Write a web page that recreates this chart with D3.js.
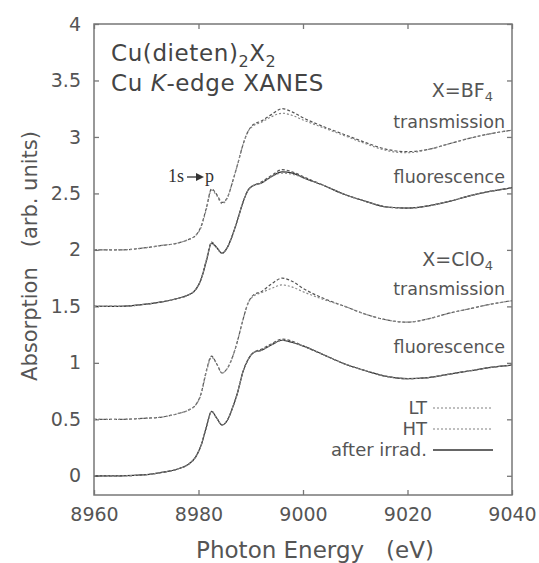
<!DOCTYPE html>
<html>
<head>
<meta charset="utf-8">
<script src="https://cdn.jsdelivr.net/npm/d3@7/dist/d3.min.js"></script>
<style>
  body { margin: 0; background: #fff; }
  text { font-family: "DejaVu Sans", sans-serif; }
</style>
</head>
<body>
<div id="chart"></div>
<script>
// photon energy grid (eV)
const energy = [8960, 8965, 8970, 8973, 8976, 8978, 8979.5, 8980.5, 8981.5, 8982.5, 8983.5, 8984.5, 8985.5, 8986.5, 8987.5, 8988.5, 8989.5, 8990.5, 8992, 8994, 8996, 8998, 9000, 9004, 9008, 9012, 9016, 9020, 9024, 9028, 9032, 9036, 9040];

// X=BF4, transmission (offset 2.0)
const bf4TransLT = [2.00, 2.00, 2.02, 2.04, 2.06, 2.09, 2.13, 2.21, 2.37, 2.54, 2.49, 2.42, 2.46, 2.60, 2.76, 2.93, 3.05, 3.11, 3.14, 3.20, 3.25, 3.22, 3.17, 3.09, 3.02, 2.95, 2.89, 2.87, 2.89, 2.94, 2.99, 3.03, 3.06];
const bf4TransHT = [2.00, 2.00, 2.02, 2.04, 2.06, 2.09, 2.13, 2.20, 2.36, 2.53, 2.48, 2.41, 2.46, 2.60, 2.76, 2.93, 3.05, 3.10, 3.13, 3.18, 3.21, 3.19, 3.15, 3.08, 3.01, 2.94, 2.88, 2.86, 2.89, 2.94, 2.99, 3.03, 3.06];
// X=BF4, fluorescence (offset 1.5)
const bf4FluoLT = [1.50, 1.50, 1.52, 1.54, 1.57, 1.60, 1.65, 1.74, 1.91, 2.07, 2.02, 1.97, 2.02, 2.13, 2.27, 2.42, 2.53, 2.57, 2.60, 2.66, 2.71, 2.69, 2.65, 2.57, 2.49, 2.43, 2.38, 2.37, 2.39, 2.43, 2.48, 2.52, 2.55];
const bf4FluoHT = [1.50, 1.50, 1.52, 1.54, 1.57, 1.60, 1.65, 1.74, 1.90, 2.06, 2.02, 1.97, 2.02, 2.13, 2.27, 2.42, 2.53, 2.57, 2.59, 2.65, 2.68, 2.67, 2.64, 2.57, 2.49, 2.43, 2.38, 2.37, 2.39, 2.43, 2.48, 2.52, 2.55];
const bf4FluoIrr = [1.50, 1.50, 1.52, 1.54, 1.57, 1.60, 1.65, 1.74, 1.90, 2.06, 2.02, 1.97, 2.02, 2.13, 2.27, 2.42, 2.53, 2.57, 2.59, 2.65, 2.69, 2.68, 2.64, 2.57, 2.49, 2.43, 2.38, 2.37, 2.39, 2.43, 2.48, 2.52, 2.55];

// X=ClO4, transmission (offset 0.5)
const clo4TransLT = [0.50, 0.50, 0.51, 0.52, 0.55, 0.58, 0.63, 0.73, 0.93, 1.06, 0.99, 0.91, 0.95, 1.05, 1.20, 1.38, 1.53, 1.60, 1.63, 1.70, 1.75, 1.72, 1.66, 1.57, 1.50, 1.43, 1.38, 1.36, 1.39, 1.44, 1.48, 1.52, 1.55];
const clo4TransHT = [0.50, 0.50, 0.51, 0.52, 0.55, 0.58, 0.63, 0.72, 0.92, 1.05, 0.99, 0.91, 0.95, 1.05, 1.20, 1.38, 1.53, 1.59, 1.62, 1.66, 1.69, 1.67, 1.63, 1.56, 1.50, 1.43, 1.38, 1.36, 1.39, 1.44, 1.48, 1.52, 1.55];
// X=ClO4, fluorescence (offset 0)
const clo4FluoLT = [0.00, 0.00, 0.01, 0.03, 0.06, 0.10, 0.17, 0.27, 0.43, 0.57, 0.51, 0.45, 0.49, 0.60, 0.74, 0.92, 1.03, 1.09, 1.12, 1.17, 1.21, 1.19, 1.15, 1.07, 0.99, 0.93, 0.88, 0.86, 0.87, 0.90, 0.93, 0.96, 0.98];
const clo4FluoHT = [0.00, 0.00, 0.01, 0.03, 0.06, 0.10, 0.17, 0.27, 0.43, 0.57, 0.51, 0.45, 0.49, 0.60, 0.74, 0.92, 1.03, 1.09, 1.11, 1.16, 1.20, 1.18, 1.15, 1.07, 0.99, 0.93, 0.88, 0.86, 0.87, 0.90, 0.93, 0.96, 0.98];
const clo4FluoIrr = [0.00, 0.00, 0.01, 0.03, 0.06, 0.10, 0.17, 0.27, 0.43, 0.57, 0.51, 0.45, 0.49, 0.60, 0.74, 0.92, 1.03, 1.09, 1.11, 1.16, 1.20, 1.18, 1.15, 1.07, 0.99, 0.93, 0.88, 0.86, 0.87, 0.90, 0.93, 0.96, 0.98];

const xTicks = [8960, 8980, 9000, 9020, 9040];
const yTicks = [0, 0.5, 1, 1.5, 2, 2.5, 3, 3.5, 4];

const styles = {
  LT: { stroke: '#555', dash: '3,2', width: 1.2 },
  HT: { stroke: '#888', dash: '2,2', width: 1.2 },
  irr: { stroke: '#333', dash: null, width: 1.2 }
};

const series = [
  { values: bf4TransLT, kind: 'LT' },
  { values: bf4TransHT, kind: 'HT' },
  { values: bf4FluoIrr, kind: 'irr' },
  { values: bf4FluoLT, kind: 'LT' },
  { values: bf4FluoHT, kind: 'HT' },
  { values: clo4TransLT, kind: 'LT' },
  { values: clo4TransHT, kind: 'HT' },
  { values: clo4FluoIrr, kind: 'irr' },
  { values: clo4FluoLT, kind: 'LT' },
  { values: clo4FluoHT, kind: 'HT' }
];

const width = 539, height = 563;
const margin = { top: 24, right: 27, bottom: 68, left: 94 };
const w = width - margin.left - margin.right;
const h = height - margin.top - margin.bottom;

const svg = d3.select('#chart').append('svg')
  .attr('width', width)
  .attr('height', height);

const chart = svg.append('g')
  .attr('transform', `translate(${margin.left},${margin.top})`);

const xScale = d3.scaleLinear().domain([8960, 9040]).range([0, w]);
const yScale = d3.scaleLinear().domain([-0.17, 4]).range([h, 0]);

// axes, ticks pointing inward on all four sides
const axisColor = '#777';
const labelColor = '#555';

chart.append('g')
  .attr('transform', `translate(0,${h})`)
  .call(d3.axisBottom(xScale).tickValues(xTicks).tickSize(-5).tickPadding(13).tickFormat(d3.format('d')))
  .call(g => g.select('.domain').remove());
chart.append('g')
  .call(d3.axisTop(xScale).tickValues(xTicks).tickSize(-5).tickFormat(''))
  .call(g => g.select('.domain').remove());
chart.append('g')
  .call(d3.axisLeft(yScale).tickValues(yTicks).tickSize(-5).tickPadding(13).tickFormat(d => d))
  .call(g => g.select('.domain').remove());
chart.append('g')
  .attr('transform', `translate(${w},0)`)
  .call(d3.axisRight(yScale).tickValues(yTicks).tickSize(-5).tickFormat(''))
  .call(g => g.select('.domain').remove());

chart.selectAll('.tick line').attr('stroke', axisColor).attr('stroke-width', 1.3);
chart.selectAll('.tick text')
  .attr('fill', labelColor)
  .style('font-size', '19px')
  .style('font-family', '"DejaVu Sans", sans-serif');

chart.append('rect')
  .attr('width', w)
  .attr('height', h)
  .attr('fill', 'none')
  .attr('stroke', axisColor)
  .attr('stroke-width', 1.5);

// spectra
const line = d3.line()
  .x((d, i) => xScale(energy[i]))
  .y(d => yScale(d))
  .curve(d3.curveMonotoneX);

chart.selectAll('.spectrum')
  .data(series)
  .enter()
  .append('path')
  .classed('spectrum', true)
  .attr('d', d => line(d.values))
  .attr('fill', 'none')
  .attr('stroke', d => styles[d.kind].stroke)
  .attr('stroke-width', d => styles[d.kind].width)
  .attr('stroke-dasharray', d => styles[d.kind].dash);

// axis titles
svg.append('text')
  .attr('x', 315)
  .attr('y', 558)
  .attr('fill', labelColor)
  .style('font-size', '23px')
  .style('text-anchor', 'middle')
  .text('Photon Energy\u00a0\u00a0\u00a0(eV)');

svg.append('text')
  .attr('transform', 'translate(37,256) rotate(-90)')
  .attr('fill', labelColor)
  .style('font-size', '21px')
  .style('text-anchor', 'middle')
  .text('Absorption\u00a0\u00a0\u00a0(arb. units)');

// title block
const title1 = svg.append('text')
  .attr('x', 111).attr('y', 61)
  .attr('fill', '#444')
  .style('font-size', '23px')
  .style('letter-spacing', '0.6px');
title1.append('tspan').text('Cu(dieten)');
title1.append('tspan').attr('dy', 6).style('font-size', '16px').text('2');
title1.append('tspan').attr('dy', -6).text('X');
title1.append('tspan').attr('dy', 6).style('font-size', '16px').text('2');

const title2 = svg.append('text')
  .attr('x', 111).attr('y', 91)
  .attr('fill', '#444')
  .style('font-size', '23px')
  .style('letter-spacing', '0.6px');
title2.append('tspan').text('Cu ');
title2.append('tspan').style('font-style', 'italic').text('K');
title2.append('tspan').text('-edge XANES');

// sample labels
function sampleLabel(y, main, sub) {
  const t = svg.append('text')
    .attr('x', 493).attr('y', y)
    .attr('fill', labelColor)
    .style('font-size', '19px')
    .style('text-anchor', 'end');
  t.append('tspan').text(main);
  t.append('tspan').attr('dy', 4).style('font-size', '13px').text(sub);
}
sampleLabel(97, 'X=BF', '4');
sampleLabel(266, 'X=ClO', '4');

const modes = [
  { y: 128, text: 'transmission' },
  { y: 183, text: 'fluorescence' },
  { y: 295, text: 'transmission' },
  { y: 353, text: 'fluorescence' }
];
svg.selectAll('.mode')
  .data(modes)
  .enter()
  .append('text')
  .classed('mode', true)
  .attr('x', 505)
  .attr('y', d => d.y)
  .attr('fill', labelColor)
  .style('font-size', '17.5px')
  .style('text-anchor', 'end')
  .text(d => d.text);

// 1s -> p annotation
svg.append('text')
  .attr('x', 168).attr('y', 182)
  .attr('fill', '#333')
  .style('font-family', '"Liberation Serif", serif')
  .style('font-size', '18px')
  .text('1s');
svg.append('line')
  .attr('x1', 187).attr('x2', 197)
  .attr('y1', 177).attr('y2', 177)
  .attr('stroke', '#333').attr('stroke-width', 1.3);
svg.append('path')
  .attr('d', 'M196,173 L204,177 L196,181 Z')
  .attr('fill', '#333');
svg.append('text')
  .attr('x', 205).attr('y', 182)
  .attr('fill', '#333')
  .style('font-family', '"Liberation Serif", serif')
  .style('font-size', '18px')
  .text('p');

// legend
const legend = [
  { label: 'LT', kind: 'LT', y: 408 },
  { label: 'HT', kind: 'HT', y: 429 },
  { label: 'after irrad.', kind: 'irr', y: 450 }
];
const lg = svg.selectAll('.legend')
  .data(legend)
  .enter()
  .append('g')
  .classed('legend', true);
lg.append('text')
  .attr('x', 427)
  .attr('y', d => d.y + 6)
  .attr('fill', labelColor)
  .style('font-size', '18px')
  .style('text-anchor', 'end')
  .text(d => d.label);
lg.append('line')
  .attr('x1', 433).attr('x2', 493)
  .attr('y1', d => d.y).attr('y2', d => d.y)
  .attr('stroke', d => d.kind === 'irr' ? '#333' : '#aaa')
  .attr('stroke-width', 1.3)
  .attr('stroke-dasharray', d => d.kind === 'irr' ? null : '2,2');
</script>
</body>
</html>
